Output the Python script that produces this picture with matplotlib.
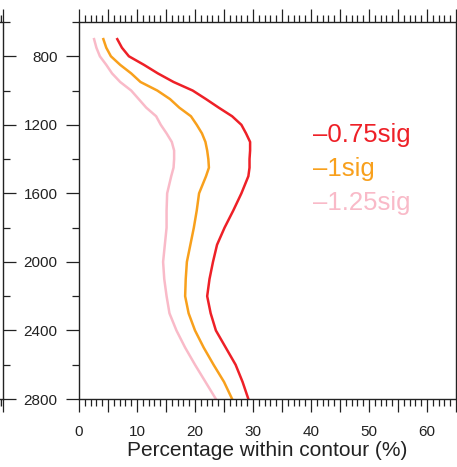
import numpy as np
import matplotlib.pyplot as plt
from matplotlib.ticker import MultipleLocator, FuncFormatter

plt.rcParams['font.family'] = ['Liberation Sans', 'DejaVu Sans']

# kedalaman (sumbu y, terbalik)
depth = [700, 750, 800, 850, 900, 950, 1000, 1050, 1100, 1150, 1200,
         1250, 1300, 1350, 1400, 1450, 1500, 1600, 1700, 1800, 1900,
         2000, 2100, 2200, 2300, 2400, 2500, 2600, 2700, 2800]

# persentase di dalam kontur untuk tiap ambang
pct_075 = [6.6, 7.4, 8.6, 11.2, 13.6, 16.3, 19.6, 21.9, 24.1, 26.4, 28.0,
           28.8, 29.5, 29.5, 29.4, 29.4, 29.2, 28.0, 26.6, 25.1, 23.8,
           23.1, 22.5, 22.1, 22.7, 23.6, 25.3, 27.0, 28.2, 29.2]
pct_100 = [4.2, 4.7, 5.5, 7.1, 9.0, 10.6, 13.5, 15.7, 17.3, 19.3, 20.3,
           21.2, 21.8, 22.1, 22.3, 22.4, 21.9, 20.7, 20.3, 19.8, 19.2,
           18.6, 18.4, 18.3, 18.9, 20.0, 21.5, 23.2, 25.0, 26.4]
pct_125 = [2.6, 3.0, 3.6, 4.7, 5.7, 7.1, 9.0, 10.3, 11.6, 13.3, 14.1,
           15.1, 16.0, 16.4, 16.4, 16.3, 15.9, 15.2, 15.1, 15.1, 14.8,
           14.5, 14.7, 15.1, 15.6, 16.8, 18.3, 20.0, 21.8, 23.6]

labels = ['\u20130.75sig', '\u20131sig', '\u20131.25sig']
colors = ['#ee2027', '#f8a01c', '#f9bac8']

ink = '#222222'

fig = plt.figure(figsize=(4.57, 4.67), dpi=100)

W, H = 457.0, 467.0
left, right, top, bottom = 79, 456, 22, 399
pos = [left / W, 1 - bottom / H, (right - left) / W, (bottom - top) / H]


def style_ticks(ax):
    ax.tick_params(which='major', direction='out', length=9.5, width=0.9,
                   color=ink, labelcolor=ink, labelsize=11)
    ax.tick_params(which='minor', direction='out', length=5, width=0.9,
                   color=ink)
    for s in ax.spines.values():
        s.set_linewidth(1.0)
        s.set_color(ink)


# potongan panel tetangga di sebelah kiri
ax0 = fig.add_axes([3 / W - 0.3, pos[1], 0.3, pos[3]])
ax0.set_xlim(0, 65)
ax0.set_ylim(2800, 600)
ax0.spines['left'].set_visible(False)
ax0.xaxis.set_major_locator(MultipleLocator(5))
ax0.xaxis.set_minor_locator(MultipleLocator(1))
ax0.yaxis.set_major_locator(MultipleLocator(400))
ax0.yaxis.set_minor_locator(MultipleLocator(200))
ax0.yaxis.tick_right()
ax0.tick_params(axis='x', which='both', top=True, bottom=True,
                labeltop=False, labelbottom=False)
ax0.tick_params(axis='y', which='both', labelright=False)
style_ticks(ax0)

# panel utama
ax = fig.add_axes(pos)
ax.plot(pct_075, depth, color=colors[0], lw=1.8)
ax.plot(pct_100, depth, color=colors[1], lw=1.8)
ax.plot(pct_125, depth, color=colors[2], lw=1.8)

ax.set_xlim(0, 65)
ax.set_ylim(2800, 600)
ax.xaxis.set_major_locator(MultipleLocator(5))
ax.xaxis.set_minor_locator(MultipleLocator(1))
ax.xaxis.set_major_formatter(FuncFormatter(
    lambda v, p: '%d' % v if int(round(v)) % 10 == 0 else ''))
ax.yaxis.set_major_locator(MultipleLocator(400))
ax.yaxis.set_minor_locator(MultipleLocator(200))
ax.tick_params(axis='x', which='both', top=True, bottom=True, labeltop=False)
ax.tick_params(axis='y', which='both', left=True, right=False)
style_ticks(ax)
ax.tick_params(axis='x', which='major', pad=9)
ax.tick_params(axis='y', which='major', pad=6)

ax.set_xlabel('Percentage within contour (%)', fontsize=15, color=ink,
              labelpad=2)

# teks keterangan
for lab, c, yy in zip(labels, colors, [1302, 1500, 1699]):
    ax.text(40.3, yy, lab, color=c, fontsize=18.5, va='baseline', ha='left')

fig.savefig('out.png', dpi=100)
